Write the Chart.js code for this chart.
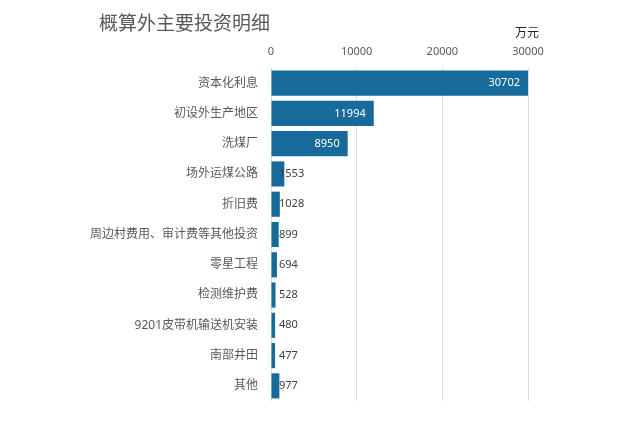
<!DOCTYPE html>
<html>
<head>
<meta charset="utf-8">
<script src="https://cdn.jsdelivr.net/npm/chart.js@4/dist/chart.umd.min.js"></script>
<style>
  html, body { margin: 0; padding: 0; background: #fff; }
  #wrap { width: 625px; height: 439px; }
</style>
</head>
<body>
<div id="wrap"><canvas id="investChart"></canvas></div>
<script>
const chartTitle = '概算外主要投资明细';
const unitLabel = '万元';
const categories = ['资本化利息', '初设外生产地区', '洗煤厂', '场外运煤公路', '折旧费',
    '周边村费用、审计费等其他投资', '零星工程', '检测维护费', '9201皮带机输送机安装', '南部井田', '其他'];
const amounts = [30702, 11994, 8950, 1553, 1028, 899, 694, 528, 480, 477, 977];
const axisTicks = [0, 10000, 20000, 30000];

const fontFamily = '"Noto Sans", "Noto Sans CJK SC", sans-serif';
const barColor = '#176a9a';

// title, unit and value labels drawn on top of the chart
const labelPlugin = {
    id: 'labelPlugin',
    afterDatasetsDraw(chart) {
        const ctx = chart.ctx;
        const area = chart.chartArea;
        const xScale = chart.scales.x;
        const meta = chart.getDatasetMeta(0);
        ctx.save();

        ctx.fillStyle = '#595959';
        ctx.font = '19px ' + fontFamily;
        ctx.textAlign = 'left';
        ctx.textBaseline = 'middle';
        ctx.fillText(chartTitle, 99, 25);

        ctx.fillStyle = '#262626';
        ctx.font = '12px ' + fontFamily;
        ctx.textAlign = 'center';
        ctx.fillText(unitLabel, 527, 34);

        ctx.font = '11px ' + fontFamily;
        meta.data.forEach((bar, i) => {
            const v = amounts[i];
            if (v > 5000) {
                ctx.fillStyle = '#ffffff';
                ctx.textAlign = 'right';
                ctx.fillText(String(v), Math.min(bar.x, area.right) - 8, bar.y);
            } else {
                ctx.fillStyle = '#404040';
                ctx.textAlign = 'left';
                ctx.fillText(String(v), xScale.getPixelForValue(0) + 8, bar.y);
            }
        });
        ctx.restore();
    }
};

new Chart(document.getElementById('investChart'), {
    type: 'bar',
    data: {
        labels: categories,
        datasets: [{
            data: amounts,
            backgroundColor: barColor,
            borderWidth: 0,
            barPercentage: 0.83,
            categoryPercentage: 1
        }]
    },
    options: {
        indexAxis: 'y',
        responsive: true,
        maintainAspectRatio: false,
        animation: false,
        layout: { padding: { top: 40, left: 85, right: 97, bottom: 38 } },
        plugins: {
            legend: { display: false },
            title: { display: false },
            tooltip: { enabled: false }
        },
        scales: {
            x: {
                position: 'top',
                min: 0,
                max: 30000,
                afterBuildTicks: s => { s.ticks = axisTicks.map(v => ({ value: v })); },
                afterFit: s => { s.height = 28; },
                grid: { color: '#dcdcdc', drawTicks: false },
                border: { display: false },
                ticks: {
                    color: '#595959',
                    font: { size: 11, family: fontFamily },
                    padding: 10,
                    callback: v => String(v)
                }
            },
            y: {
                afterFit: s => { s.width = 186; },
                grid: { display: false, drawTicks: false },
                border: { display: false },
                ticks: { color: '#595959', font: { size: 12, family: fontFamily }, padding: 13 }
            }
        }
    },
    plugins: [labelPlugin]
});
</script>
</body>
</html>
